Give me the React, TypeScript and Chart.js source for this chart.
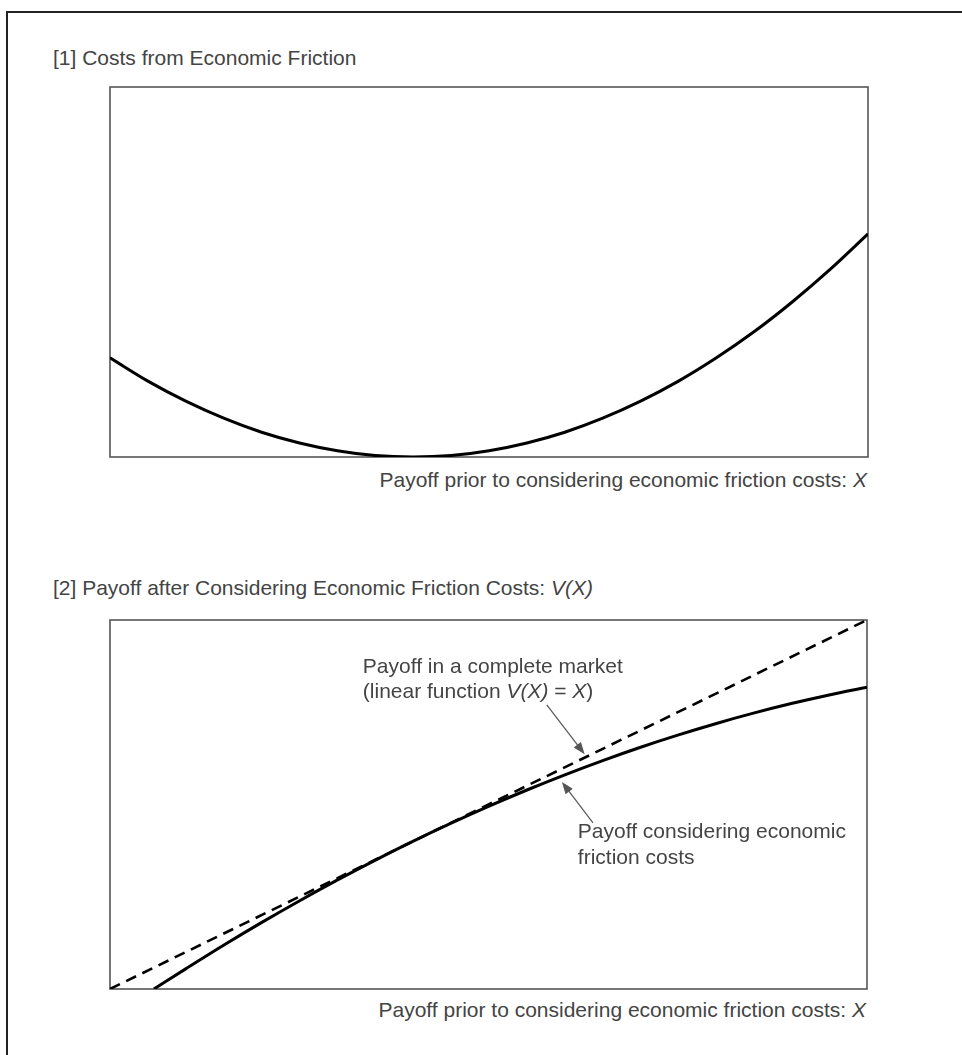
import React, { useEffect, useRef } from "react";
import { Chart, registerables } from "chart.js";

Chart.register(...registerables);

// ---- Data (both panels use 0..100 arbitrary units) ----
// [1] Costs from economic friction
const costX = [0, 5, 10, 15, 20, 25, 30, 35, 40, 45, 50, 55, 60, 65, 70, 75, 80, 85, 90, 95, 100];
const costY = [26.8, 20.5, 15.1, 10.5, 6.7, 3.8, 1.7, 0.4, 0, 0.4, 1.7, 3.8, 6.7, 10.5, 15.1, 20.5, 26.8, 33.9, 41.9, 50.7, 60.3];

// [2] Payoff in a complete market (linear V(X) = X)
const linearX = [0, 100];
const linearY = [0, 100];

// [2] Payoff considering economic friction costs
const frictionX = [5.8, 10, 15, 20, 25, 30, 35, 40, 45, 50, 55, 60, 65, 70, 75, 80, 85, 90, 95, 100];
const frictionY = [0, 5.45, 11.84, 17.98, 23.86, 29.49, 34.87, 40, 44.87, 49.49, 53.86, 57.98, 61.84, 65.45, 68.8, 71.9, 74.75, 77.35, 79.69, 81.78];

// Text
const title1 = "[1] Costs from Economic Friction";
const title2Plain = "[2] Payoff after Considering Economic Friction Costs: ";
const title2Italic = "V(X)";
const xLabelPlain = "Payoff prior to considering economic friction costs: ";
const xLabelItalic = "X";

const FONT = "'Liberation Sans', Arial, Helvetica, sans-serif";
const FONT_SIZE = 21;
const TEXT_COLOR = "#444";

const toPoints = (xs: number[], ys: number[]) => xs.map((x, i) => ({ x, y: ys[i] }));

const boxPlugin = {
  id: "plotBox",
  beforeDatasetsDraw(chart: any) {
    const { ctx, chartArea } = chart;
    ctx.save();
    ctx.strokeStyle = "#555";
    ctx.lineWidth = 1.6;
    ctx.strokeRect(chartArea.left, chartArea.top, chartArea.right - chartArea.left, chartArea.bottom - chartArea.top);
    ctx.restore();
  },
};

type Seg = { t: string; i?: boolean };

function drawSegs(ctx: CanvasRenderingContext2D, segs: Seg[], x: number, y: number) {
  let cx = x;
  for (const s of segs) {
    ctx.font = `${s.i ? "italic " : ""}${FONT_SIZE}px ${FONT}`;
    ctx.fillText(s.t, cx, y);
    cx += ctx.measureText(s.t).width;
  }
}

function drawArrow(ctx: CanvasRenderingContext2D, x1: number, y1: number, x2: number, y2: number) {
  const ang = Math.atan2(y2 - y1, x2 - x1);
  const len = 12;
  const hw = 4.5;
  ctx.save();
  ctx.strokeStyle = "#555";
  ctx.fillStyle = "#555";
  ctx.lineWidth = 1.2;
  ctx.beginPath();
  ctx.moveTo(x1, y1);
  ctx.lineTo(x2 - Math.cos(ang) * len * 0.8, y2 - Math.sin(ang) * len * 0.8);
  ctx.stroke();
  ctx.beginPath();
  ctx.moveTo(x2, y2);
  ctx.lineTo(x2 - Math.cos(ang) * len - Math.sin(ang) * hw, y2 - Math.sin(ang) * len + Math.cos(ang) * hw);
  ctx.lineTo(x2 - Math.cos(ang) * len + Math.sin(ang) * hw, y2 - Math.sin(ang) * len - Math.cos(ang) * hw);
  ctx.closePath();
  ctx.fill();
  ctx.restore();
}

// annotation positions in data units of panel [2]
const upperTextPos = { x: 33.4, y1: 85.6, y2: 78.9 };
const upperArrow = { fromX: 57.7, fromY: 77.0, toX: 62.7, toY: 63.6 };
const lowerTextPos = { x: 61.8, y1: 40.9, y2: 33.9 };
const lowerArrow = { fromX: 63.8, fromY: 45.0, toX: 59.7, toY: 56.1 };

const annotationPlugin = {
  id: "annotations",
  afterDatasetsDraw(chart: any) {
    const { ctx, scales } = chart;
    const xs = scales.x;
    const ys = scales.y;
    ctx.save();
    ctx.fillStyle = TEXT_COLOR;
    ctx.textBaseline = "alphabetic";
    drawSegs(ctx, [{ t: "Payoff in a complete market" }], xs.getPixelForValue(upperTextPos.x), ys.getPixelForValue(upperTextPos.y1));
    drawSegs(
      ctx,
      [{ t: "(linear function " }, { t: "V(X)", i: true }, { t: " = " }, { t: "X", i: true }, { t: ")" }],
      xs.getPixelForValue(upperTextPos.x),
      ys.getPixelForValue(upperTextPos.y2)
    );
    drawSegs(ctx, [{ t: "Payoff considering economic" }], xs.getPixelForValue(lowerTextPos.x), ys.getPixelForValue(lowerTextPos.y1));
    drawSegs(ctx, [{ t: "friction costs" }], xs.getPixelForValue(lowerTextPos.x), ys.getPixelForValue(lowerTextPos.y2));
    ctx.restore();
    drawArrow(
      ctx,
      xs.getPixelForValue(upperArrow.fromX),
      ys.getPixelForValue(upperArrow.fromY),
      xs.getPixelForValue(upperArrow.toX),
      ys.getPixelForValue(upperArrow.toY)
    );
    drawArrow(
      ctx,
      xs.getPixelForValue(lowerArrow.fromX),
      ys.getPixelForValue(lowerArrow.fromY),
      xs.getPixelForValue(lowerArrow.toX),
      ys.getPixelForValue(lowerArrow.toY)
    );
  },
};

function baseOptions(): any {
  return {
    responsive: false,
    animation: false,
    events: [],
    layout: { padding: 10 },
    plugins: { legend: { display: false }, tooltip: { enabled: false }, title: { display: false } },
    scales: {
      x: { type: "linear", min: 0, max: 100, display: false },
      y: { type: "linear", min: 0, max: 100, display: false },
    },
    elements: { point: { radius: 0 } },
  };
}

function CostChart() {
  const ref = useRef<HTMLCanvasElement>(null);
  useEffect(() => {
    if (!ref.current) return;
    const chart = new Chart(ref.current, {
      type: "line",
      data: {
        datasets: [
          {
            data: toPoints(costX, costY),
            borderColor: "#000",
            borderWidth: 3,
            cubicInterpolationMode: "monotone",
            fill: false,
          } as any,
        ],
      },
      options: baseOptions(),
      plugins: [boxPlugin],
    });
    return () => chart.destroy();
  }, []);
  return <canvas ref={ref} width={778} height={390} style={{ position: "absolute", left: 100, top: 77 }} />;
}

function PayoffChart() {
  const ref = useRef<HTMLCanvasElement>(null);
  useEffect(() => {
    if (!ref.current) return;
    const chart = new Chart(ref.current, {
      type: "line",
      data: {
        datasets: [
          {
            data: toPoints(linearX, linearY),
            borderColor: "#000",
            borderWidth: 2.6,
            borderDash: [11, 7],
            fill: false,
          } as any,
          {
            data: toPoints(frictionX, frictionY),
            borderColor: "#000",
            borderWidth: 3,
            cubicInterpolationMode: "monotone",
            fill: false,
          } as any,
        ],
      },
      options: baseOptions(),
      plugins: [boxPlugin, annotationPlugin],
    });
    return () => chart.destroy();
  }, []);
  return <canvas ref={ref} width={777} height={389} style={{ position: "absolute", left: 100, top: 610 }} />;
}

const textStyle: React.CSSProperties = {
  position: "absolute",
  fontFamily: FONT,
  fontSize: FONT_SIZE,
  lineHeight: "24px",
  color: TEXT_COLOR,
  whiteSpace: "nowrap",
};

export default function App() {
  return (
    <div style={{ position: "absolute", left: 0, top: 0, width: 962, height: 1055, overflow: "hidden", background: "#fff" }}>
      <div
        style={{
          position: "absolute",
          left: 6,
          top: 11,
          width: 960,
          height: 1050,
          borderTop: "2px solid #222",
          borderLeft: "2px solid #222",
        }}
      />
      <div style={{ ...textStyle, left: 53, top: 46 }}>{title1}</div>
      <div style={{ ...textStyle, right: 95, top: 468, textAlign: "right" }}>
        {xLabelPlain}
        <i>{xLabelItalic}</i>
      </div>
      <div style={{ ...textStyle, left: 53, top: 576 }}>
        {title2Plain}
        <i>{title2Italic}</i>
      </div>
      <div style={{ ...textStyle, right: 96, top: 998, textAlign: "right" }}>
        {xLabelPlain}
        <i>{xLabelItalic}</i>
      </div>
      <CostChart />
      <PayoffChart />
    </div>
  );
}
